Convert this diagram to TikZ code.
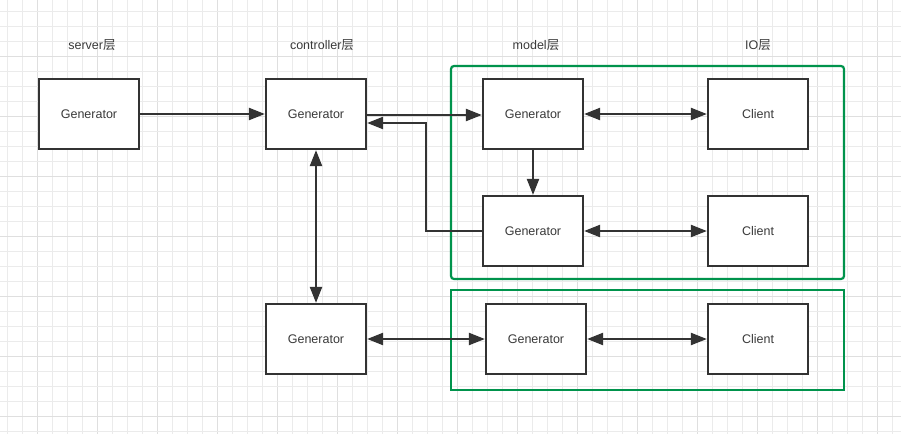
\documentclass[tikz,border=0pt]{standalone}
\usepackage{fontspec}
\setmainfont{Liberation Sans}
\newfontfamily\cjk{Noto Sans CJK SC}
\usetikzlibrary{arrows.meta}
\definecolor{ink}{HTML}{333333}
\definecolor{txt}{HTML}{3A3A3A}
\definecolor{grn}{HTML}{00934C}
\definecolor{gridlight}{HTML}{EBEBEB}
\definecolor{griddark}{HTML}{DFDFDF}
\tikzset{
  box/.style={draw=ink, line width=2.2pt, fill=white, minimum width=100pt, minimum height=70pt, inner sep=0pt, text=txt, font=\fontsize{12.5}{14}\selectfont},
  lbl/.style={text=txt, font=\fontsize{12.5}{14}\selectfont, inner sep=0pt},
  arr/.style={draw=ink, line width=2.2pt, -{Triangle[length=16pt,width=12pt]}},
  darr/.style={draw=ink, line width=2.2pt, {Triangle[length=16pt,width=12pt]}-{Triangle[length=16pt,width=12pt]}},
  group/.style={draw=grn, line width=2.2pt},
}
\begin{document}
\begin{tikzpicture}[x=1pt,y=-1pt]
\useasboundingbox (0,0) rectangle (901,434);
\fill[white] (0,0) rectangle (901,434);
% grid
\foreach \k in {0,...,59}{
  \pgfmathsetmacro{\xx}{7.3+15*\k}
  \pgfmathtruncatemacro{\m}{mod(\k,4)}
  \ifnum\m=2
    \draw[griddark, line width=1pt] (\xx,0) -- (\xx,434);
  \else
    \draw[gridlight, line width=1pt] (\xx,0) -- (\xx,434);
  \fi
}
\foreach \k in {0,...,28}{
  \pgfmathsetmacro{\yy}{11.7+15*\k}
  \pgfmathtruncatemacro{\m}{mod(\k,4)}
  \ifnum\m=3
    \draw[griddark, line width=1pt] (0,\yy) -- (901,\yy);
  \else
    \draw[gridlight, line width=1pt] (0,\yy) -- (901,\yy);
  \fi
}
% groups
\draw[group, rounded corners=3pt] (451,66) rectangle (844,279);
\draw[group] (451,290) rectangle (844,390);
% labels
\node[lbl] (ls) at (92,45) {server{\cjk 层}};
\node[lbl] (lc) at (322,45) {controller{\cjk 层}};
\node[lbl] (lm) at (536,45) {model{\cjk 层}};
\node[lbl] (li) at (758,45) {IO{\cjk 层}};
% boxes
\node[box] (s)  at (89,114)  {Generator};
\node[box] (c)  at (316,114) {Generator};
\node[box] (g1) at (533,114) {Generator};
\node[box] (k1) at (758,114) {Client};
\node[box] (g2) at (533,231) {Generator};
\node[box] (k2) at (758,231) {Client};
\node[box] (b)  at (316,339) {Generator};
\node[box] (bm) at (536,339) {Generator};
\node[box] (k3) at (758,339) {Client};
% connectors
\draw[arr] (s.east) -- (c.west);
\draw[arr] ([yshift=-1pt]c.east) -- ([yshift=-1pt]g1.west);
\coordinate (ret) at (426,123);
\draw[arr] (g2.west) -| (ret) -- (c.east |- ret);
\draw[darr] (g1.east) -- (k1.west);
\draw[arr] (g1.south) -- (g2.north);
\draw[darr] (g2.east) -- (k2.west);
\draw[darr] (c.south) -- (b.north);
\draw[darr] (b.east) -- (bm.west);
\draw[darr] (bm.east) -- (k3.west);
\end{tikzpicture}
\end{document}
